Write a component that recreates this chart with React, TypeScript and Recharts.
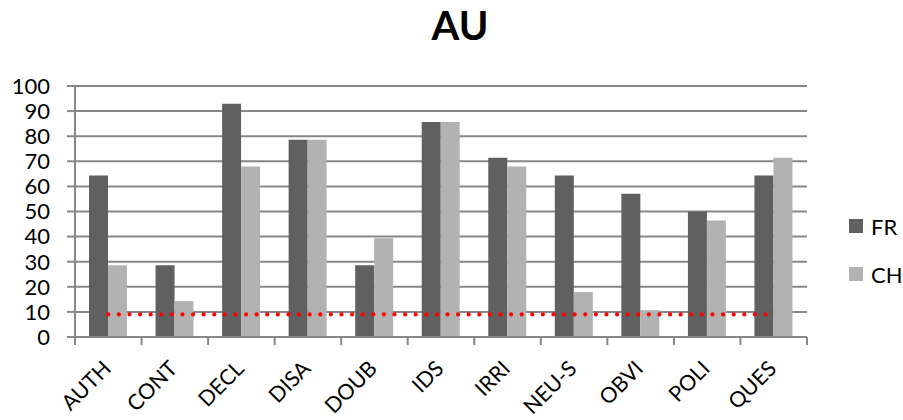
import { ComposedChart, Bar, Line, XAxis, YAxis, CartesianGrid } from "recharts";

const categories = ["AUTH", "CONT", "DECL", "DISA", "DOUB", "IDS", "IRRI", "NEU-S", "OBVI", "POLI", "QUES"];
const frValues = [64.3, 28.6, 92.9, 78.6, 28.6, 85.7, 71.4, 64.3, 57.1, 50, 64.3];
const chValues = [28.6, 14.3, 67.9, 78.6, 39.3, 85.7, 67.9, 17.9, 10.7, 46.4, 71.4];
const thresholdValues = [9, 9, 9, 9, 9, 9, 9, 9, 9, 9, 9];
const yTicks = [0, 10, 20, 30, 40, 50, 60, 70, 80, 90, 100];

const data = categories.map((name, i) => ({
  name,
  FR: frValues[i],
  CH: chValues[i],
  threshold: thresholdValues[i],
}));

const FONT = "Lato, 'Open Sans', sans-serif";
const GRID = "#878787";
const FR_COLOR = "#606060";
const CH_COLOR = "#b2b2b2";

const W = 903;
const H = 420;
const X_HEIGHT = 30;
const MARGIN = { top: 86, right: 96, bottom: 83 - X_HEIGHT, left: 0 };
const Y_WIDTH = 75;
const BAND = (W - MARGIN.right - Y_WIDTH) / categories.length;

function CategoryTick(props: any) {
  const { x, y, payload, index } = props;
  const ax = x + 4;
  const ay = y + 33;
  return (
    <g>
      <line x1={x - BAND / 2} y1={y} x2={x - BAND / 2} y2={y + 8} stroke={GRID} strokeWidth={2} />
      {index === categories.length - 1 && (
        <line x1={x + BAND / 2} y1={y} x2={x + BAND / 2} y2={y + 8} stroke={GRID} strokeWidth={2} />
      )}
      <text
        x={ax}
        y={ay}
        textAnchor="end"
        transform={`rotate(-45 ${ax} ${ay})`}
        fontSize={21.5}
        fontFamily={FONT}
        fill="#000"
      >
        {payload.value}
      </text>
    </g>
  );
}

export default function App() {
  return (
    <div style={{ position: "absolute", left: 0, top: 0, width: W, height: H, background: "#fff" }}>
      <div
        style={{
          position: "absolute",
          left: 0,
          top: 0,
          width: 920,
          textAlign: "center",
          fontFamily: FONT,
          fontWeight: 700,
          fontSize: 40,
          lineHeight: "50px",
        }}
      >
        AU
      </div>
      <ComposedChart width={W} height={H} data={data} margin={MARGIN} barGap={0} barSize={19}>
        <CartesianGrid vertical={false} stroke={GRID} strokeWidth={2} />
        <XAxis
          dataKey="name"
          height={X_HEIGHT}
          axisLine={{ stroke: GRID, strokeWidth: 2 }}
          tickLine={false}
          tickSize={0}
          tickMargin={0}
          interval={0}
          tick={<CategoryTick />}
        />
        <YAxis
          width={Y_WIDTH}
          domain={[0, 100]}
          ticks={yTicks}
          interval={0}
          axisLine={{ stroke: GRID, strokeWidth: 2 }}
          tickLine={{ stroke: GRID, strokeWidth: 2 }}
          tickSize={8}
          tickMargin={17}
          tick={{ fontSize: 22, fontFamily: FONT, fill: "#000" }}
        />
        <Bar dataKey="FR" fill={FR_COLOR} isAnimationActive={false} />
        <Bar dataKey="CH" fill={CH_COLOR} isAnimationActive={false} />
        <Line
          dataKey="threshold"
          stroke="#ff0000"
          strokeWidth={4.2}
          strokeLinecap="round"
          strokeDasharray="0 10.6"
          dot={false}
          activeDot={false}
          isAnimationActive={false}
        />
      </ComposedChart>
      {[
        { label: "FR", color: FR_COLOR, top: 219 },
        { label: "CH", color: CH_COLOR, top: 267 },
      ].map((item) => (
        <div
          key={item.label}
          style={{
            position: "absolute",
            left: 849,
            top: item.top - 5,
            height: 24,
            display: "flex",
            alignItems: "center",
            fontFamily: FONT,
            fontSize: 22,
          }}
        >
          <span style={{ width: 14, height: 14, background: item.color, marginRight: 8 }} />
          {item.label}
        </div>
      ))}
    </div>
  );
}
